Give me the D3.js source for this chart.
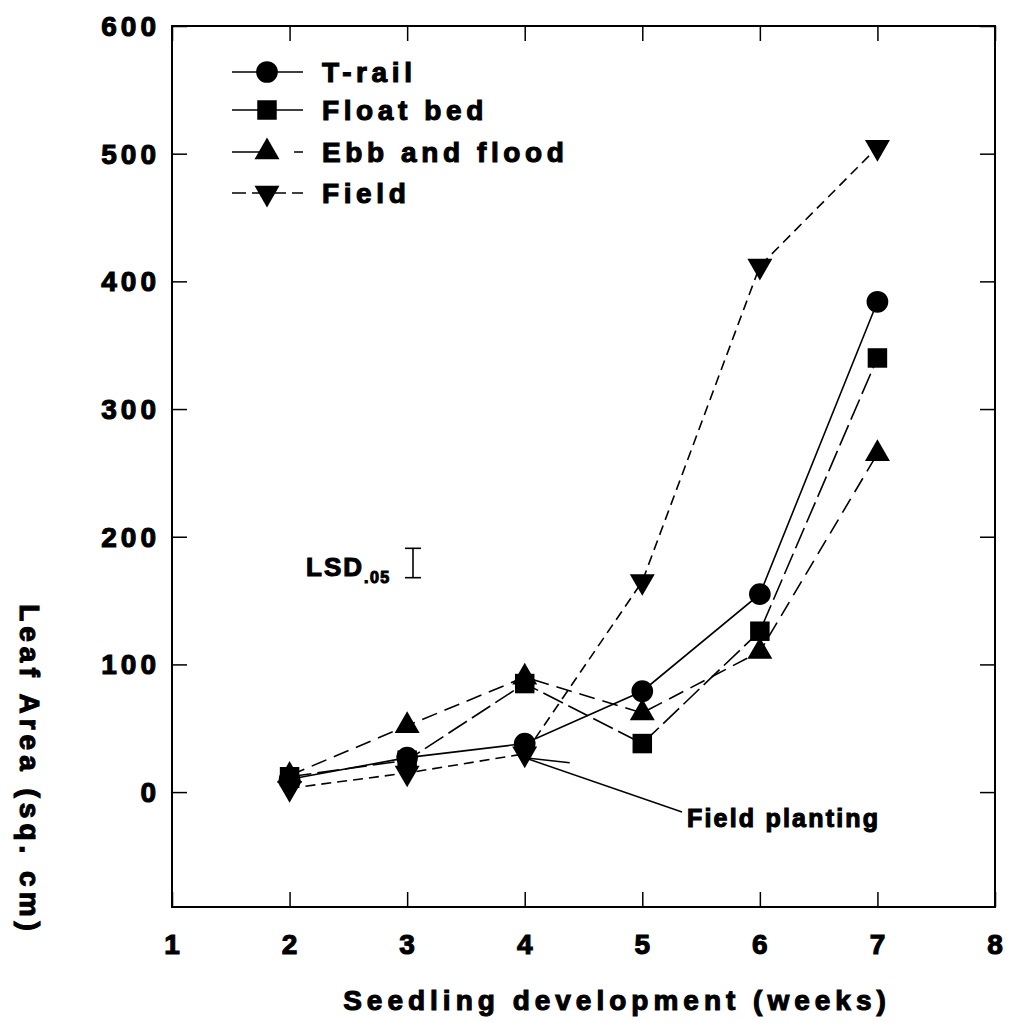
<!DOCTYPE html>
<html>
<head>
<meta charset="utf-8">
<script src="https://cdn.jsdelivr.net/npm/d3@7"></script>
<style>
  html, body { margin: 0; padding: 0; background: #fff; }
  text { font-family: "Liberation Sans", Arial, sans-serif; font-weight: bold; fill: #000; stroke: #000; stroke-width: 1.1; }
</style>
</head>
<body>
<svg id="chart" width="1010" height="1023"></svg>
<script>
// ---- data ----
const weeks = [2, 3, 4, 5, 6, 7];
const tRail = [10, 27, 38, 79, 155, 384];
const floatBed = [12, 25, 85, 38, 126, 340];
const ebbFlood = [13, 52, 90, 62, 110, 265];
const field = [3, 15, 30, 165, 412, 505];
const seriesNames = ["T-rail", "Float bed", "Ebb and flood", "Field"];
const xTicks = [1, 2, 3, 4, 5, 6, 7, 8];
const yTicks = [0, 100, 200, 300, 400, 500, 600];
const lsdValue = 23;

const svg = d3.select("#chart");
const L = 172, R = 995, T = 26, B = 907;
const x = d3.scaleLinear().domain([1, 8]).range([L, R]);
const y = d3.scaleLinear().domain([-90, 600]).range([B, T]);

// frame
svg.append("rect").attr("x", L).attr("y", T).attr("width", R - L).attr("height", B - T)
  .attr("fill", "none").attr("stroke", "#000").attr("stroke-width", 2);

// axes with inward ticks
const tl = 15;
const gB = svg.append("g").attr("transform", `translate(0,${B})`)
  .call(d3.axisTop(x).tickValues(xTicks).tickSize(tl).tickFormat(""));
const gT = svg.append("g").attr("transform", `translate(0,${T})`)
  .call(d3.axisBottom(x).tickValues(xTicks).tickSize(tl).tickFormat(""));
const gL = svg.append("g").attr("transform", `translate(${L},0)`)
  .call(d3.axisRight(y).tickValues(yTicks).tickSize(tl).tickFormat(""));
const gR = svg.append("g").attr("transform", `translate(${R},0)`)
  .call(d3.axisLeft(y).tickValues(yTicks).tickSize(tl).tickFormat(""));
[gB, gT, gL, gR].forEach(g => {
  g.select(".domain").remove();
  g.selectAll("line").attr("stroke", "#000").attr("stroke-width", 1.5);
});

// tick labels
svg.append("g").selectAll("text").data(xTicks).join("text")
  .attr("x", d => x(d)).attr("y", 954)
  .attr("text-anchor", "middle").attr("font-size", 28)
  .text(d => d);
svg.append("g").selectAll("text").data(yTicks).join("text")
  .attr("x", 160).attr("y", d => y(d) + 10)
  .attr("text-anchor", "end").attr("font-size", 28).attr("letter-spacing", 4)
  .text(d => d);

// axis titles
svg.append("text").attr("x", 617).attr("y", 1010).attr("text-anchor", "middle")
  .attr("font-size", 28).attr("letter-spacing", 5)
  .text("Seedling development (weeks)");
svg.append("text").attr("transform", "translate(20,770) rotate(90)")
  .attr("text-anchor", "middle").attr("font-size", 28).attr("letter-spacing", 5)
  .text("Leaf Area (sq. cm)");

// series
const series = [
  { name: seriesNames[0], vals: tRail, dash: null, sym: "circle" },
  { name: seriesNames[1], vals: floatBed, dash: "22,6", sym: "square" },
  { name: seriesNames[2], vals: ebbFlood, dash: "16,8", sym: "triUp" },
  { name: seriesNames[3], vals: field, dash: "10,6", sym: "triDown" }
];
function symPath(s) {
  if (s === "circle") return d3.symbol(d3.symbolCircle, 370)();
  if (s === "square") return d3.symbol(d3.symbolSquare, 380)();
  return d3.symbol(d3.symbolTriangle, 270)();
}
function symTransform(s, cx, cy) {
  if (s === "triDown") return `translate(${cx},${cy}) rotate(180)`;
  return `translate(${cx},${cy})`;
}
const line = d3.line().x(d => x(d[0])).y(d => y(d[1]));
series.forEach(s => {
  const pts = weeks.map((w, i) => [w, s.vals[i]]);
  svg.append("path").attr("d", line(pts)).attr("fill", "none")
    .attr("stroke", "#000").attr("stroke-width", 1.6)
    .attr("stroke-dasharray", s.dash);
});
series.forEach(s => {
  svg.append("g").selectAll("path").data(weeks.map((w, i) => [w, s.vals[i]])).join("path")
    .attr("d", symPath(s.sym))
    .attr("transform", d => symTransform(s.sym, x(d[0]), y(d[1])))
    .attr("fill", "#000");
});

// legend
const legY = [72, 110, 152, 193];
const legDash = [null, null, "30,8,4,20", "14,6"];
series.forEach((s, i) => {
  const g = svg.append("g");
  g.append("line").attr("x1", 232).attr("x2", 303).attr("y1", legY[i]).attr("y2", legY[i])
    .attr("stroke", "#000").attr("stroke-width", 1.6).attr("stroke-dasharray", legDash[i]);
  g.append("path").attr("d", symPath(s.sym))
    .attr("transform", symTransform(s.sym, 267, legY[i])).attr("fill", "#000");
  g.append("text").attr("x", 322).attr("y", legY[i] + 10)
    .attr("font-size", 28).attr("letter-spacing", 4.6)
    .text(s.name);
});

// LSD
const lsdX = 413, lsdCY = 563;
const half = (y(0) - y(lsdValue)) / 2;
svg.append("text").attr("x", 306).attr("y", 576).attr("font-size", 26).attr("letter-spacing", 2)
  .text("LSD").append("tspan").attr("font-size", 16).attr("dy", 7).attr("letter-spacing", 1.5).text(".05");
const lg = svg.append("g").attr("stroke", "#000").attr("stroke-width", 1.6);
lg.append("line").attr("x1", lsdX).attr("x2", lsdX).attr("y1", lsdCY - half).attr("y2", lsdCY + half);
lg.append("line").attr("x1", lsdX - 8).attr("x2", lsdX + 8).attr("y1", lsdCY - half).attr("y2", lsdCY - half);
lg.append("line").attr("x1", lsdX - 8).attr("x2", lsdX + 8).attr("y1", lsdCY + half).attr("y2", lsdCY + half);

// Field planting annotation
const tipX = x(4), tipY = y(field[2]) + 4;
const ag = svg.append("g").attr("stroke", "#000").attr("stroke-width", 1.5);
ag.append("line").attr("x1", tipX).attr("y1", tipY).attr("x2", 682).attr("y2", 812);
ag.append("line").attr("x1", tipX).attr("y1", tipY).attr("x2", tipX + 45).attr("y2", tipY + 5);
svg.append("text").attr("x", 687).attr("y", 827).attr("font-size", 25).attr("letter-spacing", 2.2)
  .text("Field planting");
</script>
</body>
</html>
